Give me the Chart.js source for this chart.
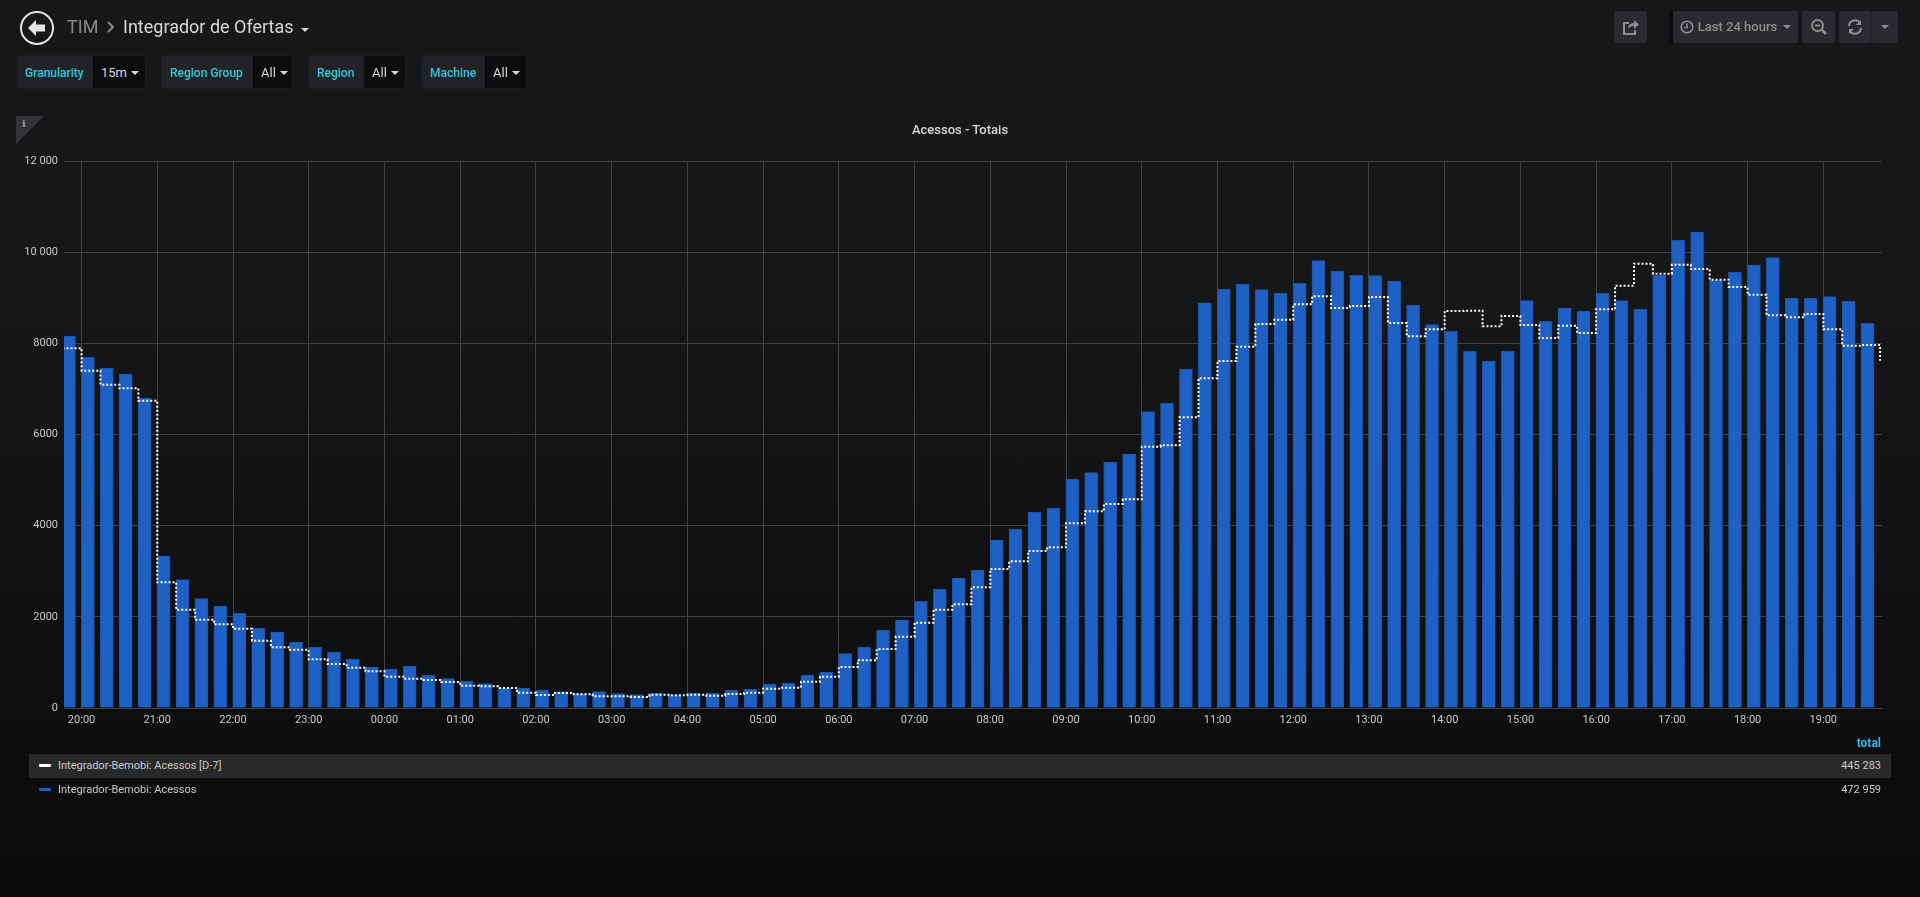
<!DOCTYPE html>
<html lang="pt">
<head>
<meta charset="utf-8">
<title>TIM - Integrador de Ofertas</title>
<script src="https://cdn.jsdelivr.net/npm/chart.js@4"></script>
<style>
  html, body { margin: 0; padding: 0; width: 1920px; height: 897px; overflow: hidden; }
  body { position: relative; font-family: Roboto, sans-serif; color: #d8d9da;
    background: linear-gradient(#161719 30%, #0a0b0d 100%); }
  .abs { position: absolute; white-space: nowrap; }
  #chart { position: absolute; left: 0; top: 0; }

  .crumb { top: 14px; font-size: 18px; line-height: 26px; }
  .var { position: absolute; top: 55px; height: 32px; border-radius: 3px; background: #212327;
    border: 1px solid #1c1d20; display: flex; font-size: 12px; line-height: 34px; box-sizing: content-box; }
  .var b { font-weight: 500; color: #2cc9dd; padding: 0 8px; }
  .var span { background: #0b0c0e; color: #d8d9da; font-size: 13px; padding-left: 8px; border-radius: 0 3px 3px 0; flex: 1; }
  .caret { display: inline-block; width: 0; height: 0; border: 4px solid transparent; border-top: 4px solid #d8d9da;
    border-bottom: 0; margin-left: 4px; vertical-align: 2px; }

  .btn { position: absolute; top: 11px; height: 32px; background: #2a2b2e; border-radius: 2px; color: #8e8e8e;
    font-size: 13px; font-weight: 500; line-height: 32px; display: flex; align-items: center; justify-content: center; }
  .btn .caret { border-top-color: #8e8e8e; }

  .row { position: absolute; left: 29px; width: 1862px; height: 24px; line-height: 24px; font-size: 11px; color: #c8c9ca; }
  .row i { position: absolute; left: 10px; top: 10px; width: 12px; height: 3px; border-radius: 1px; }
  .row span { position: absolute; left: 29px; }
  .row em { position: absolute; right: 10px; font-style: normal; }
</style>
</head>
<body>
<canvas id="chart" width="1920" height="760"></canvas>

<svg class="abs" style="left:18px;top:9px" width="38" height="38" viewBox="0 0 38 38">
  <circle cx="19" cy="19" r="16" fill="none" stroke="#e4e4e4" stroke-width="2"/>
  <path d="M18 11 L10 19 L18 27 L18 22.5 L27 22.5 L27 15.5 L18 15.5 Z" fill="#e4e4e4"/>
</svg>
<div class="abs crumb" style="left:67px;color:#8a8a8a">TIM</div>
<svg class="abs" style="left:106px;top:20px" width="10" height="14" viewBox="0 0 10 14">
  <path d="M2 2 L7 7 L2 12" fill="none" stroke="#8a8a8a" stroke-width="2"/>
</svg>
<div class="abs crumb" style="left:123px;color:#d8d9da">Integrador de Ofertas</div>
<span class="abs caret" style="left:301px;top:28px;margin:0"></span>

<div id="vars"></div>

<svg class="abs" style="left:16px;top:116px" width="28" height="28"><path d="M0 0 H28 L0 28 Z" fill="#333438"/></svg>
<div class="abs" style="left:22px;top:118px;font:bold 10px 'DejaVu Serif',serif;color:#9a9a9a">i</div>

<div class="abs" style="left:0;width:1920px;top:122px;text-align:center;font-size:13px;font-weight:500;line-height:16px;color:#d8d9da">Acessos - Totais</div>

<div class="btn" style="left:1614px;width:33px">
  <svg width="18" height="17" viewBox="0 0 18 17" fill="none" stroke="#8e8e8e" stroke-width="2">
    <path d="M13 11 V15 H2 V4 H7"/><path d="M6 10 C6 6 9 4 12 4 V1 L17 5.5 L12 10 V7 C9 7 7 8 6 10 Z" fill="#8e8e8e" stroke="none"/>
  </svg>
</div>
<div class="abs" style="left:1669px;top:11px;width:4px;height:32px;background:#0c0d0f"></div>
<div class="btn" style="left:1673px;width:125px">
  <svg width="14" height="14" viewBox="0 0 14 14" fill="none" stroke="#8e8e8e" stroke-width="1.6" style="margin-right:4px">
    <circle cx="7" cy="7" r="5.8"/><path d="M7 3.5 V7.5 H4.5"/>
  </svg>Last 24 hours<span class="caret" style="margin-left:6px;vertical-align:0"></span>
</div>
<div class="btn" style="left:1802px;width:33px">
  <svg width="18" height="18" viewBox="0 0 18 18" fill="none" stroke="#8e8e8e" stroke-width="2">
    <circle cx="7.5" cy="7.5" r="5.5"/><path d="M5 7.5 H10"/><path d="M11.5 11.5 L16 16" stroke-width="2.6"/>
  </svg>
</div>
<div class="btn" style="left:1839px;width:32px">
  <svg width="16" height="16" viewBox="0 0 16 16" fill="none" stroke="#8e8e8e" stroke-width="2.2">
    <path d="M2 7 A6 6 0 0 1 13 4"/><path d="M14 1 V6 H9" fill="#8e8e8e" stroke="none"/>
    <path d="M14 9 A6 6 0 0 1 3 12"/><path d="M2 15 V10 H7" fill="#8e8e8e" stroke="none"/>
  </svg>
</div>
<div class="btn" style="left:1871px;width:27px;border-left:1px solid #232427;box-sizing:border-box"><span class="caret" style="margin:0"></span></div>

<div class="abs" style="right:39px;top:736px;font-size:12px;font-weight:700;color:#33b5e5">total</div>
<div id="legend"></div>

<script>
// bars and D-7 line are 15 min slots, first slot is 19:45 of the day before
const slotStart = -15;
const slotMinutes = 15;

const acessos = [
  8161,
  7700, 7459, 7320, 6794,
  3335, 2815, 2399, 2230,
  2077, 1748, 1667, 1448,
  1331, 1221, 1075, 899,
  856, 914, 717, 644,
  585, 534, 439, 431,
  388, 358, 314, 358,
  314, 293, 322, 285,
  329, 322, 388, 410,
  527, 548, 724, 790,
  1192, 1331, 1704, 1931,
  2340, 2611, 2845, 3020,
  3686, 3927, 4293, 4381,
  5017, 5163, 5390, 5573,
  6501, 6691, 7430, 8890,
  9192, 9295, 9178, 9097,
  9317, 9814, 9587, 9492,
  9485, 9368, 8834, 8410,
  8264, 7825, 7606, 7825,
  8937, 8485, 8775, 8709,
  9097, 8936, 8746, 9492,
  10260, 10443, 9390, 9558,
  9719, 9880, 8987, 8987,
  9024, 8922, 8439
];

const acessosD7 = [
  7891,
  7401, 7094, 7013, 6743,
  2757, 2157, 1938, 1836,
  1740, 1477, 1331, 1280,
  1068, 965, 885, 804,
  687, 644, 614, 570,
  490, 475, 439, 336,
  285, 329, 300, 256,
  256, 241, 293, 278,
  293, 271, 307, 336,
  424, 446, 578, 687,
  899, 1046, 1294, 1565,
  1872, 2157, 2274, 2647,
  3050, 3218, 3444, 3525,
  4051, 4315, 4476, 4578,
  5733, 5763, 6377, 7236,
  7613, 7927, 8425, 8520,
  8856, 9032, 8776, 8819,
  9017, 8447, 8154, 8308,
  8710, 8717, 8373, 8600,
  8403, 8117, 8383, 8227,
  8746, 9265, 9748, 9529,
  9726, 9631, 9397, 9236,
  9068, 8614, 8570, 8643,
  8307, 7946, 7961, 7617
];

const hourLabels = ['20:00', '21:00', '22:00', '23:00', '00:00', '01:00', '02:00', '03:00',
  '04:00', '05:00', '06:00', '07:00', '08:00', '09:00', '10:00', '11:00',
  '12:00', '13:00', '14:00', '15:00', '16:00', '17:00', '18:00', '19:00'];
const yTicks = [0, 2000, 4000, 6000, 8000, 10000, 12000];
const yTickLabels = ['0', '2000', '4000', '6000', '8000', '10 000', '12 000'];

const varNames = ['Granularity', 'Region Group', 'Region', 'Machine'];
const varValues = ['15m', 'All', 'All', 'All'];
const legendNames = ['Integrador-Bemobi: Acessos [D-7]', 'Integrador-Bemobi: Acessos'];
const legendTotals = ['445 283', '472 959'];

const varLeft = [16, 161, 308, 421];
const varWidth = [128, 130, 96, 104];
const varLabelWidth = [76, 91, 55, 63];
const seriesColors = ['#ffffff', '#1f60c4'];

// template vars
const varsDiv = document.querySelector('#vars');
varNames.forEach((name, i) => {
  const box = document.createElement('div');
  box.classList.add('var');
  box.style.left = varLeft[i] + 'px';
  box.style.width = varWidth[i] + 'px';
  const label = document.createElement('b');
  label.textContent = name;
  label.style.width = (varLabelWidth[i] - 16) + 'px';
  const value = document.createElement('span');
  value.innerHTML = varValues[i] + '<i class="caret"></i>';
  box.appendChild(label);
  box.appendChild(value);
  varsDiv.appendChild(box);
});

// legend rows
const legendDiv = document.querySelector('#legend');
legendNames.forEach((name, i) => {
  const row = document.createElement('div');
  row.classList.add('row');
  row.style.top = (754 + i * 24) + 'px';
  if (i === 0) row.style.background = '#28292b';
  row.innerHTML = '<i style="background:' + seriesColors[i] + '"></i><span>' + name + '</span><em>' + legendTotals[i] + '</em>';
  legendDiv.appendChild(row);
});

// bars are left aligned on their slot in grafana, chart.js centres them
const barShift = 5;
const barData = acessos.map((v, i) => ({ x: slotStart + i * slotMinutes + barShift, y: v }));
const lineData = acessosD7.map((v, i) => ({ x: slotStart + i * slotMinutes, y: v }));

const gridColor = '#404144';
const tickColor = '#c9cacb';

new Chart(document.querySelector('#chart'), {
  type: 'bar',
  data: {
    datasets: [
      {
        type: 'line',
        label: legendNames[0],
        data: lineData,
        order: 0,
        stepped: true,
        borderColor: seriesColors[0],
        borderWidth: 2,
        borderDash: [2, 2],
        pointRadius: 0,
        fill: false
      },
      {
        label: legendNames[1],
        data: barData,
        order: 1,
        backgroundColor: seriesColors[1],
        borderColor: '#1c54ab',
        borderWidth: 1,
        borderSkipped: 'bottom',
        barThickness: 13
      }
    ]
  },
  options: {
    responsive: false,
    animation: false,
    layout: { padding: { left: 0, right: 38, top: 161, bottom: 0 } },
    plugins: {
      legend: { display: false },
      tooltip: { enabled: false },
      title: { display: false }
    },
    scales: {
      x: {
        type: 'linear',
        offset: false,
        min: -13.9,
        max: 1426.5,
        grid: { color: gridColor, offset: false, tickLength: 0 },
        border: { display: false },
        afterBuildTicks: (scale) => {
          scale.ticks = hourLabels.map((label, i) => ({ value: i * 60 }));
        },
        afterFit: (scale) => { scale.height = 52; },
        ticks: {
          color: tickColor,
          font: { family: 'Roboto', size: 11 },
          padding: 6,
          maxRotation: 0,
          autoSkip: false,
          callback: (value) => hourLabels[value / 60]
        }
      },
      y: {
        min: 0,
        max: 12000,
        grid: { color: gridColor, tickLength: 0 },
        border: { display: false },
        afterBuildTicks: (scale) => {
          scale.ticks = yTicks.map((value) => ({ value: value }));
        },
        afterFit: (scale) => { scale.width = 64; },
        ticks: {
          color: tickColor,
          font: { family: 'Roboto', size: 11 },
          padding: 6,
          callback: (value) => yTickLabels[yTicks.indexOf(value)]
        }
      }
    }
  }
});
</script>
</body>
</html>
